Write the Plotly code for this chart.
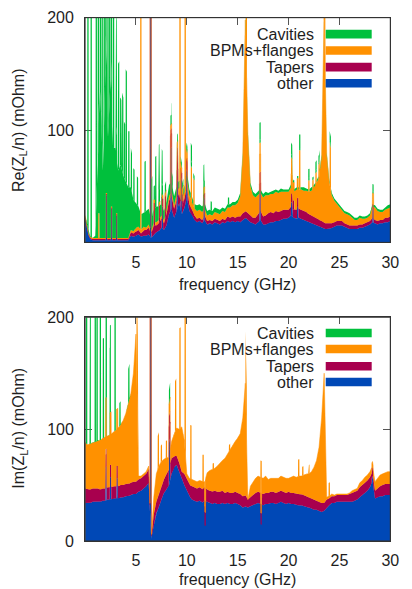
import plotly.graph_objects as go

# ---------------- data ----------------
FREQ = [
    0.0, 0.25, 0.5, 0.75, 1.0, 1.25, 1.5, 1.75, 2.0, 2.25, 2.5, 2.75,
    3.0, 3.25, 3.5, 3.75, 4.0, 4.25, 4.5, 4.75, 5.0, 5.25, 5.5, 5.75,
    6.0, 6.25, 6.5, 6.75, 7.0, 7.25, 7.5, 7.75, 8.0, 8.25, 8.5, 8.75,
    9.0, 9.25, 9.5, 9.75, 10.0, 10.25, 10.5, 10.75, 11.0, 11.25, 11.5, 11.75,
    12.0, 12.25, 12.5, 12.75, 13.0, 13.25, 13.5, 13.75, 14.0, 14.25, 14.5, 14.75,
    15.0, 15.25, 15.5, 15.75, 16.0, 16.25, 16.5, 16.75, 17.0, 17.25, 17.5, 17.75,
    18.0, 18.25, 18.5, 18.75, 19.0, 19.25, 19.5, 19.75, 20.0, 20.25, 20.5, 20.75,
    21.0, 21.25, 21.5, 21.75, 22.0, 22.25, 22.5, 22.75, 23.0, 23.25, 23.5, 23.75,
    24.0, 24.25, 24.5, 24.75, 25.0, 25.25, 25.5, 25.75, 26.0, 26.25, 26.5, 26.75,
    27.0, 27.25, 27.5, 27.75, 28.0, 28.25, 28.5, 28.75, 29.0, 29.25, 29.5, 29.75,
    30.0,
]

# Re(Z_L/n) contributions (mOhm), broadband part
RE_OTHER = [
    20, 8, 3, 2, 2, 2, 2, 2, 2, 2, 2, 2,
    2, 2, 2, 2, 2, 2, 6, 5, 6, 7, 5, 6,
    6, 7, 4, 7, 9, 10, 13, 11, 15, 25, 30, 22,
    28, 35, 25, 30, 40, 28, 25, 20, 18, 19, 17, 20,
    16, 17, 16, 18, 17, 16, 18, 17, 19, 18, 19, 18,
    19, 18, 20, 22, 20, 18, 17, 16, 18, 20, 16, 16,
    17, 18, 18, 19, 19, 20, 21, 21, 22, 24, 22, 21,
    22, 21, 20, 19, 18, 17, 16, 15, 14, 13, 12, 12,
    12, 13, 14, 15, 15, 15, 14, 13, 12, 12, 12, 12,
    13, 13, 14, 15, 16, 18, 17, 16, 17, 17, 18, 18,
    19,
]
RE_TAPERS = [
    2, 1, 1, 1, 1, 1, 1, 1, 1, 1, 1, 1,
    1, 1, 1, 1, 1, 1, 3, 3, 4, 4, 3, 5,
    5, 6, 4, 8, 6, 7, 8, 6, 10, 12, 12, 8,
    10, 8, 6, 8, 10, 6, 5, 4, 3, 3, 3, 4,
    3, 3, 3, 3, 3, 3, 3, 3, 4, 4, 4, 4,
    4, 5, 6, 6, 6, 6, 5, 6, 7, 8, 7, 8,
    9, 9, 8, 9, 8, 8, 8, 8, 7, 8, 7, 8,
    8, 8, 8, 8, 7, 7, 7, 7, 6, 6, 5, 5,
    5, 4, 4, 4, 4, 4, 3, 3, 3, 3, 3, 3,
    3, 3, 3, 3, 3, 4, 3, 3, 3, 3, 4, 4,
    4,
]
RE_BPM = [
    2, 1, 1, 1, 1, 1, 1, 1, 1, 1, 1, 1,
    1, 1, 1, 1, 1, 1, 2, 2, 3, 3, 3, 3,
    2, 3, 2, 3, 3, 3, 3, 3, 3, 4, 4, 3,
    5, 6, 5, 6, 8, 8, 6, 6, 7, 7, 7, 6,
    5, 5, 5, 6, 6, 6, 7, 7, 8, 9, 10, 11,
    12, 18, 51, 170, 70, 26, 20, 18, 18, 16, 17, 18,
    16, 16, 17, 17, 17, 17, 16, 16, 16, 17, 16, 18,
    17, 18, 18, 19, 20, 22, 26, 31, 38, 57, 190, 61,
    36, 25, 19, 15, 12, 10, 9, 9, 9, 7, 5, 5,
    6, 5, 4, 4, 5, 10, 11, 9, 7, 7, 7, 8,
    8,
]
RE_CAV = [
    0, 3, 0, 0, 2, 70, 130, 60, 150, 90, 140, 80,
    80, 60, 65, 55, 50, 45, 38, 28, 22, 18, 14, 12,
    15, 14, 10, 12, 14, 12, 10, 8, 8, 10, 8, 8,
    7, 6, 5, 6, 6, 5, 5, 4, 5, 5, 5, 5,
    4, 4, 4, 4, 4, 4, 3, 3, 3, 3, 3, 3,
    3, 3, 3, 3, 3, 3, 3, 3, 3, 3, 3, 3,
    2, 2, 3, 2, 2, 3, 2, 2, 2, 3, 2, 2,
    2, 2, 3, 2, 2, 3, 2, 2, 2, 2, 2, 2,
    2, 2, 2, 2, 2, 2, 2, 2, 2, 2, 2, 2,
    2, 2, 2, 2, 2, 2, 2, 2, 2, 2, 2, 3,
    3,
]
# narrow resonances (frequency GHz, extra height mOhm)
RE_OTHER_SPIKES = [(2.1, 40), (2.6, 28), (3.1, 22), (6.45, 260), (7.6, 20), (8.45, 55),
                   (9.05, 25), (9.45, 30), (10.0, 25), (11.7, 20), (17.2, 25), (20.3, 12),
                   (20.9, 10), (28.3, 12)]
RE_TAPER_SPIKES = [(6.8, 20), (7.3, 15), (7.9, 20), (8.45, 5), (9.1, 20), (9.6, 10),
                   (17.2, 10), (20.5, 8)]
RE_BPM_SPIKES = [(1.35, 22), (5.48, 260), (9.33, 260), (9.84, 260), (10.45, 30), (10.7, 25),
                 (15.85, 150), (17.2, 10), (20.3, 15), (21.1, 35), (22.0, 10), (22.4, 8),
                 (22.7, 10), (23.0, 12), (23.55, 150), (24.1, 38)]
RE_CAV_SPIKES = [(0.28, 260), (0.6, 260), (1.1, 260), (1.3, 200), (1.5, 150), (1.68, 200),
                 (1.88, 150), (2.05, 150), (2.25, 120), (2.42, 120), (2.6, 150), (2.8, 160),
                 (3.05, 100), (3.3, 95), (3.5, 60), (3.7, 70), (3.88, 50), (4.05, 100),
                 (4.3, 50), (4.55, 35), (4.8, 28), (5.15, 25), (5.9, 45), (6.55, 35),
                 (6.95, 45), (7.25, 40), (7.55, 30), (8.55, 10), (10.45, 15), (11.65, 15),
                 (12.4, 8), (14.1, 6), (17.2, 15), (20.3, 10), (21.1, 12), (22.0, 8),
                 (22.7, 8), (23.0, 6), (24.1, 8), (28.3, 6)]

# Im(Z_L/n) contributions (mOhm), broadband part
IM_OTHER = [
    34, 34, 34, 35, 35, 35, 35, 36, 36, 37, 37, 38,
    38, 38, 39, 39, 40, 40, 41, 42, 42, 44, 45, 47,
    49, 52, 2, 14, 25, 30, 37, 43, 46, 50, 60, 66,
    68, 62, 55, 50, 45, 40, 37, 36, 35, 36, 34, 36,
    35, 34, 33, 34, 33, 33, 34, 33, 34, 33, 33, 34,
    33, 32, 30, 31, 30, 31, 32, 33, 34, 33, 32, 33,
    33, 34, 34, 33, 34, 35, 34, 33, 34, 33, 33, 32,
    32, 32, 31, 30, 30, 29, 28, 28, 27, 26, 27, 30,
    32, 34, 34, 35, 35, 35, 35, 35, 35, 35, 36, 37,
    39, 41, 43, 45, 48, 54, 38, 39, 40, 40, 41, 41,
    41,
]
IM_TAPERS = [
    13, 12, 12, 12, 12, 12, 11, 11, 11, 11, 11, 11,
    11, 11, 11, 11, 11, 11, 11, 11, 11, 11, 11, 11,
    11, 12, 1, 10, 10, 12, 12, 12, 14, 14, 14, 10,
    8, 8, 7, 10, 10, 10, 12, 12, 12, 12, 12, 12,
    11, 11, 11, 11, 11, 11, 11, 10, 10, 10, 10, 10,
    10, 10, 10, 10, 7, 8, 9, 10, 10, 10, 10, 10,
    10, 10, 10, 10, 10, 10, 10, 10, 10, 10, 10, 10,
    10, 10, 10, 10, 9, 9, 9, 8, 8, 8, 7, 7,
    6, 6, 6, 6, 6, 6, 6, 6, 7, 8, 8, 8,
    9, 9, 9, 9, 9, 8, 7, 8, 9, 10, 10, 10,
    10,
]
IM_BPM = [
    41, 40, 41, 41, 42, 43, 44, 45, 46, 46, 47, 48,
    50, 52, 54, 58, 63, 71, 80, 97, 132, 3, 2, 2,
    2, 3, 0, 15, 25, 25, 22, 18, 15, 10, 15, 20,
    25, 30, 40, 30, 5, 6, 6, 6, 6, 6, 7, 5,
    15, 18, 20, 20, 23, 26, 27, 31, 34, 38, 42, 45,
    49, 54, 70, 100, 0, 10, 12, 13, 14, 14, 14, 15,
    12, 12, 12, 13, 12, 13, 13, 13, 12, 14, 15, 15,
    16, 16, 18, 20, 21, 24, 29, 36, 49, 76, 116, 2,
    2, 2, 1, 1, 1, 1, 1, 1, 1, 2, 2, 2,
    4, 4, 5, 5, 5, 5, 8, 9, 10, 10, 10, 11,
    11,
]
IM_OTHER_SPIKES = [(2.05, 30), (2.5, 20), (3.15, 18), (6.45, 260), (8.3, 38),
                   (11.8, -22), (17.3, -18), (28.25, 4)]
IM_TAPER_SPIKES = [(2.05, 5), (8.3, 10)]
IM_BPM_SPIKES = [(5.12, 90), (7.2, 30), (7.5, 15), (8.0, 15), (8.9, 45), (9.33, 90),
                 (9.84, 150), (10.4, 48), (11.6, 24), (11.8, 22), (12.6, 5), (14.2, 6),
                 (15.83, 55), (17.3, 33), (21.0, 15), (21.4, 8), (22.0, 8), (24.0, 12)]
IM_CAV_SPIKES = [(0.15, 200), (0.5, 200), (1.0, 200), (1.18, 200), (1.5, 200), (1.8, 89),
                 (2.08, 200), (2.47, 78), (2.95, 200), (3.43, 21), (4.3, 32), (8.3, 13)]

NAMES = ["Cavities", "BPMs+flanges", "Tapers", "other"]

# ---------------- style ----------------
GREEN = "#00C03C"
ORANGE = "#FF9100"
CRIMSON = "#A8004E"
BLUE = "#0048B6"
FONT = "Liberation Sans, Arial, Helvetica, sans-serif"
TXT = "#1e1e1e"
FS = 16
HW = 0.07      # half width of a narrow resonance (GHz)
EDGE = 0.01    # steepness of its sides (GHz)

W, H = 412, 600
# the captured picture shows the page slightly squeezed vertically;
# map wanted picture rows to page rows
SY, OY = 0.973, 6.3


def LY(p):
    return (p - OY) / SY


def spike_xy(spikes):
    xs, ys = [], []
    for f, h in sorted(spikes):
        xs += [f - HW, f - HW + EDGE, f + HW - EDGE, f + HW]
        ys += [0, h, h, 0]
    return xs, ys


fig = go.Figure()

panels = [
    ("x", "y", "re", [(RE_OTHER, RE_OTHER_SPIKES, BLUE, "other"),
                      (RE_TAPERS, RE_TAPER_SPIKES, CRIMSON, "Tapers"),
                      (RE_BPM, RE_BPM_SPIKES, ORANGE, "BPMs+flanges"),
                      (RE_CAV, RE_CAV_SPIKES, GREEN, "Cavities")]),
    ("x2", "y2", "im", [(IM_OTHER, IM_OTHER_SPIKES, BLUE, "other"),
                        (IM_TAPERS, IM_TAPER_SPIKES, CRIMSON, "Tapers"),
                        (IM_BPM, IM_BPM_SPIKES, ORANGE, "BPMs+flanges"),
                        (None, IM_CAV_SPIKES, GREEN, "Cavities")]),
]

for xa, ya, grp, comps in panels:
    for base, spikes, color, name in comps:
        if base is not None:
            fig.add_trace(go.Scatter(
                x=FREQ, y=base, xaxis=xa, yaxis=ya, name=name, mode="lines",
                stackgroup=grp, stackgaps="interpolate",
                line=dict(width=0.5 if color != GREEN else 0, color=color),
                fillcolor=color, showlegend=False, hoverinfo="skip"))
        sx, sy = spike_xy(spikes)
        fig.add_trace(go.Scatter(
            x=sx, y=sy, xaxis=xa, yaxis=ya, name=name, mode="lines",
            stackgroup=grp, stackgaps="interpolate",
            line=dict(width=0, color=color),
            fillcolor=color, showlegend=False, hoverinfo="skip"))

# plot-area geometry, in wanted picture pixels
PX0, PX1 = 87, 399
TOP = (16, 241)
BOT = (316, 540)


def ydom(t, b):
    return [1 - LY(b) / H, 1 - LY(t) / H]


axis_common = dict(
    ticks="inside", ticklen=7, tickwidth=1, tickcolor="#555555",
    showline=True, linecolor="#333333", linewidth=1, mirror="ticks",
    showgrid=False, zeroline=False, layer="below traces",
    tickfont=dict(family=FONT, size=FS, color=TXT),
)

XTICKS = [5, 10, 15, 20, 25, 30]

fig.update_layout(
    width=W, height=H,
    margin=dict(l=0, r=0, t=0, b=0),
    paper_bgcolor="white", plot_bgcolor="white",
    showlegend=False,
    xaxis=dict(domain=[PX0 / W, PX1 / W], range=[0, 30], anchor="y",
               tickvals=XTICKS, ticklabelstandoff=5, **axis_common),
    yaxis=dict(domain=ydom(*TOP), range=[0, 200], anchor="x",
               tickvals=[100, 200], ticklabelstandoff=7, **axis_common),
    xaxis2=dict(domain=[PX0 / W, PX1 / W], range=[0, 30], anchor="y2",
                tickvals=XTICKS, ticklabelstandoff=5, **axis_common),
    yaxis2=dict(domain=ydom(*BOT), range=[0, 200], anchor="x2",
                tickvals=[0, 100, 200], ticklabelstandoff=7, **axis_common),
)

shapes = []
annotations = []

# frames on top of the data
for xr, yr in (("x domain", "y domain"), ("x2 domain", "y2 domain")):
    shapes.append(dict(type="rect", xref=xr, yref=yr, x0=0, x1=1, y0=0, y1=1,
                       line=dict(color="#333333", width=1), layer="above"))


def label(text, px, py, angle=0, xanchor="center"):
    annotations.append(dict(text=text, x=px / W, y=1 - LY(py) / H,
                            xref="paper", yref="paper", xanchor=xanchor,
                            yanchor="middle", textangle=angle, showarrow=False,
                            font=dict(family=FONT, size=FS, color=TXT)))


# axis titles
label("frequency (GHz)", (PX0 + PX1) / 2, 283)
label("frequency (GHz)", (PX0 + PX1) / 2, 578.5)
label("Re(Z<sub>L</sub>/n) (mOhm)", 20, 129, angle=-90)
label("Im(Z<sub>L</sub>/n) (mOhm)", 20, 427, angle=-90)

# legends (text right-aligned, swatch to the right)
LEG_COLORS = [GREEN, ORANGE, CRIMSON, BLUE]
for rows in ((32.5, 48.8, 65.5, 81.7), (331.7, 347.8, 365.0, 380.8)):
    for name, color, cy in zip(NAMES, LEG_COLORS, rows):
        label(name, 323, cy + 0.5, xanchor="right")
        shapes.append(dict(type="rect", xref="paper", yref="paper",
                           x0=333 / W, x1=380 / W,
                           y0=1 - LY(cy + 4.3) / H, y1=1 - LY(cy - 4.3) / H,
                           line=dict(width=0), fillcolor=color, layer="above"))

fig.update_layout(shapes=shapes, annotations=annotations)
fig.write_html("out.html")
